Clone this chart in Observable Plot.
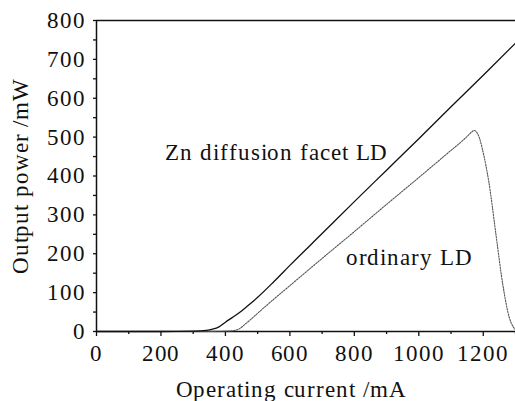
<!DOCTYPE html>
<html>
<head>
<meta charset="utf-8">
<script src="https://cdn.jsdelivr.net/npm/d3@7"></script>
<script src="https://cdn.jsdelivr.net/npm/@observablehq/plot@0.6"></script>
<style>
  @font-face {
    font-family: "RefSerif";
    src: local("Liberation Serif"), local("LiberationSerif"), local("LiberationSerif-Regular"),
         local("DejaVu Serif"), local("DejaVuSerif"), local("Times New Roman"), local("Tinos"), local("Noto Serif");
  }
  html, body { margin: 0; padding: 0; background: #fff; }
  svg text { letter-spacing: 0.9px; }
</style>
</head>
<body>
<div id="chart"></div>
<script>
// Zn diffusion facet LD
const znCurrent = [0, 100, 200, 300, 340, 360, 380, 400, 425, 450, 475, 500, 550, 600, 700, 800, 900, 1000, 1100, 1200, 1300];
const znPower   = [0, 0, 0, 1, 3, 6, 12, 24, 38, 53, 70, 88, 128, 170, 252, 334, 415, 496, 578, 659, 742];

// ordinary LD
const ordCurrent = [0, 100, 200, 300, 400, 430, 445, 460, 480, 500, 550, 600, 700, 800, 900, 1000, 1100, 1140, 1155, 1165, 1172, 1180, 1188, 1197, 1208, 1218, 1239, 1260, 1280, 1293, 1300];
const ordPower   = [0, 0, 0, 0, 1, 3, 8, 18, 32, 47, 83, 118, 188, 257, 327, 396, 466, 494, 506, 514, 517, 512, 498, 470, 428, 381, 252, 124, 38, 12, 4];

const xMajorTicks = [0, 200, 400, 600, 800, 1000, 1200];
const xMinorTicks = [100, 300, 500, 700, 900, 1100, 1300];
const yMajorTicks = [0, 100, 200, 300, 400, 500, 600, 700, 800];
const yMinorTicks = [50, 150, 250, 350, 450, 550, 650, 750];

const annotations = [
  {text: "Zn diffusion facet LD", current: 214, power: 440},
  {text: "ordinary LD", current: 773, power: 170}
];
const xLabel = "Operating current /mA";
const yLabel = "Output power /mW";

const zn = znCurrent.map((c, i) => ({current: c, power: znPower[i]}));
const ord = ordCurrent.map((c, i) => ({current: c, power: ordPower[i]}));

const font = "RefSerif, 'Liberation Serif', 'DejaVu Serif', serif";

const chart = Plot.plot({
  width: 515,
  height: 401,
  marginLeft: 96,
  marginRight: 0,
  marginTop: 20,
  marginBottom: 70,
  style: {fontFamily: font, fontSize: "23px", color: "#111", background: "#fff"},
  x: {domain: [0, 1300]},
  y: {domain: [0, 800]},
  marks: [
    Plot.axisX({ticks: xMinorTicks, tickSize: 3, tickFormat: () => "", label: null, strokeWidth: 1.3}),
    Plot.axisX({ticks: xMajorTicks, tickSize: 5, tickPadding: 8, tickFormat: d => String(d), label: null, strokeWidth: 1.3, fontSize: 23}),
    Plot.axisY({ticks: yMinorTicks, tickSize: 3, tickFormat: () => "", label: null, strokeWidth: 1.3}),
    Plot.axisY({ticks: yMajorTicks, tickSize: 3, tickPadding: 8, tickFormat: d => String(d), label: null, strokeWidth: 1.3, fontSize: 23}),
    Plot.ruleY([0], {stroke: "#111", strokeWidth: 1.5}),
    Plot.ruleY([800], {stroke: "#111", strokeWidth: 1.5}),
    Plot.ruleX([0], {stroke: "#111", strokeWidth: 1.5}),
    Plot.line(ord, {x: "current", y: "power", curve: "monotone-x", stroke: "#555", strokeWidth: 1.1, strokeDasharray: "1.5,1.3"}),
    Plot.line(zn, {x: "current", y: "power", curve: "monotone-x", stroke: "#111", strokeWidth: 1.3}),
    Plot.text(annotations, {x: "current", y: "power", text: "text", textAnchor: "start", lineAnchor: "bottom", fontSize: 23, fill: "#111"}),
    Plot.text([xLabel], {frameAnchor: "bottom", textAnchor: "middle", dx: -15, dy: 58, text: d => d, lineAnchor: "middle", fontSize: 23, fill: "#111"}),
    Plot.text([yLabel], {frameAnchor: "left", textAnchor: "middle", dx: -76, rotate: -90, text: d => d, lineAnchor: "middle", fontSize: 23, fill: "#111"})
  ]
});
chart.style.fontFamily = font;
chart.querySelectorAll("g, text").forEach(el => { el.setAttribute("font-family", font); });
document.getElementById("chart").appendChild(chart);
</script>
</body>
</html>
